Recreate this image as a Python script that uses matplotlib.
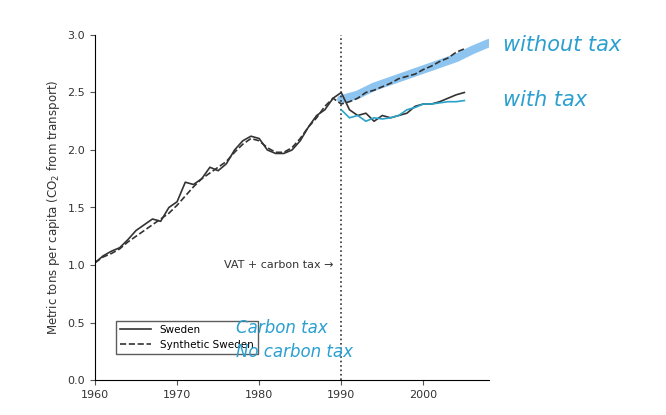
import matplotlib.pyplot as plt

years = list(range(1960, 2006))
sweden = [1.02, 1.08, 1.12, 1.15, 1.22, 1.30, 1.35, 1.40, 1.38, 1.50,
          1.55, 1.72, 1.70, 1.75, 1.85, 1.82, 1.88, 2.00, 2.08, 2.12,
          2.10, 2.00, 1.97, 1.97, 2.00, 2.08, 2.20, 2.30, 2.35, 2.45,
          2.50, 2.35, 2.30, 2.32, 2.25, 2.30, 2.28, 2.30, 2.32, 2.38,
          2.40, 2.40, 2.42, 2.45, 2.48, 2.50]
synthetic = [1.02, 1.07, 1.10, 1.14, 1.20, 1.25, 1.30, 1.35, 1.40, 1.45,
             1.52, 1.60, 1.68, 1.75, 1.80, 1.85, 1.90, 1.98, 2.05, 2.10,
             2.08, 2.02, 1.98, 1.98, 2.02, 2.10, 2.20, 2.28, 2.38, 2.45,
             2.40, 2.42, 2.45, 2.50, 2.52, 2.55, 2.58, 2.62, 2.64, 2.66,
             2.70, 2.73, 2.77, 2.80, 2.85, 2.88]

# hand-drawn overlays
pen_years = [1990, 1991, 1992, 1993, 1994, 1995, 1996, 1997, 1998, 1999,
             2000, 2001, 2002, 2003, 2004, 2005]
pen_with_tax = [2.35, 2.28, 2.30, 2.25, 2.28, 2.27, 2.28, 2.30, 2.35, 2.37,
                2.40, 2.40, 2.41, 2.42, 2.42, 2.43]
hl_years = [1990, 1992, 1994, 1996, 1998, 2000, 2002, 2004, 2006, 2008]
hl_without_tax = [2.44, 2.48, 2.55, 2.60, 2.65, 2.70, 2.75, 2.80, 2.87, 2.93]

fig = plt.figure(figsize=(6.66, 4.15), dpi=100)
ax = fig.add_axes([95 / 666, 35 / 415, 394 / 666, 345 / 415])

ax.plot(hl_years, hl_without_tax, color="#8ec5f0", lw=6, solid_capstyle="round", zorder=1)
l_sw, = ax.plot(years, sweden, color="#333333", lw=1.2, zorder=2)
l_syn, = ax.plot(years, synthetic, color="#333333", lw=1.2, ls="--", zorder=2)
ax.plot(pen_years, pen_with_tax, color="#2aa3c9", lw=1.2, zorder=3)
ax.axvline(1990, color="#333333", ls=":", lw=1.2)

ax.set_xlim(1960, 2008)
ax.set_ylim(0, 3.0)
ax.set_xticks([1960, 1970, 1980, 1990, 2000])
ax.set_yticks([0.0, 0.5, 1.0, 1.5, 2.0, 2.5, 3.0])
ax.set_yticklabels([f"{v:.1f}" for v in ax.get_yticks()])
ax.tick_params(labelsize=8, color="#555555", labelcolor="#333333")
ax.spines[["top", "right"]].set_visible(False)
ax.set_ylabel("Metric tons per capita (CO$_2$ from transport)", fontsize=8.5, color="#333333")

ax.text(1989, 1.0, "VAT + carbon tax \u2192", ha="right", va="center", fontsize=8, color="#333333")
ax.legend(handles=[l_sw, l_syn], labels=["Sweden", "Synthetic Sweden"], loc="lower left",
          bbox_to_anchor=(0.04, 0.06), fontsize=7.5, frameon=True, fancybox=False,
          edgecolor="#333333", handlelength=3)

blue = "#2a9fd0"
fig.text(503 / 666, 1 - 45 / 415, "without tax", fontsize=15, color=blue, va="center", style="italic")
fig.text(503 / 666, 1 - 100 / 415, "with tax", fontsize=15, color=blue, va="center", style="italic")
fig.text(236 / 666, 1 - 328 / 415, "Carbon tax", fontsize=12, color=blue, va="center", style="italic")
fig.text(236 / 666, 1 - 352 / 415, "No carbon tax", fontsize=12, color=blue, va="center", style="italic")

fig.savefig("out.png")
